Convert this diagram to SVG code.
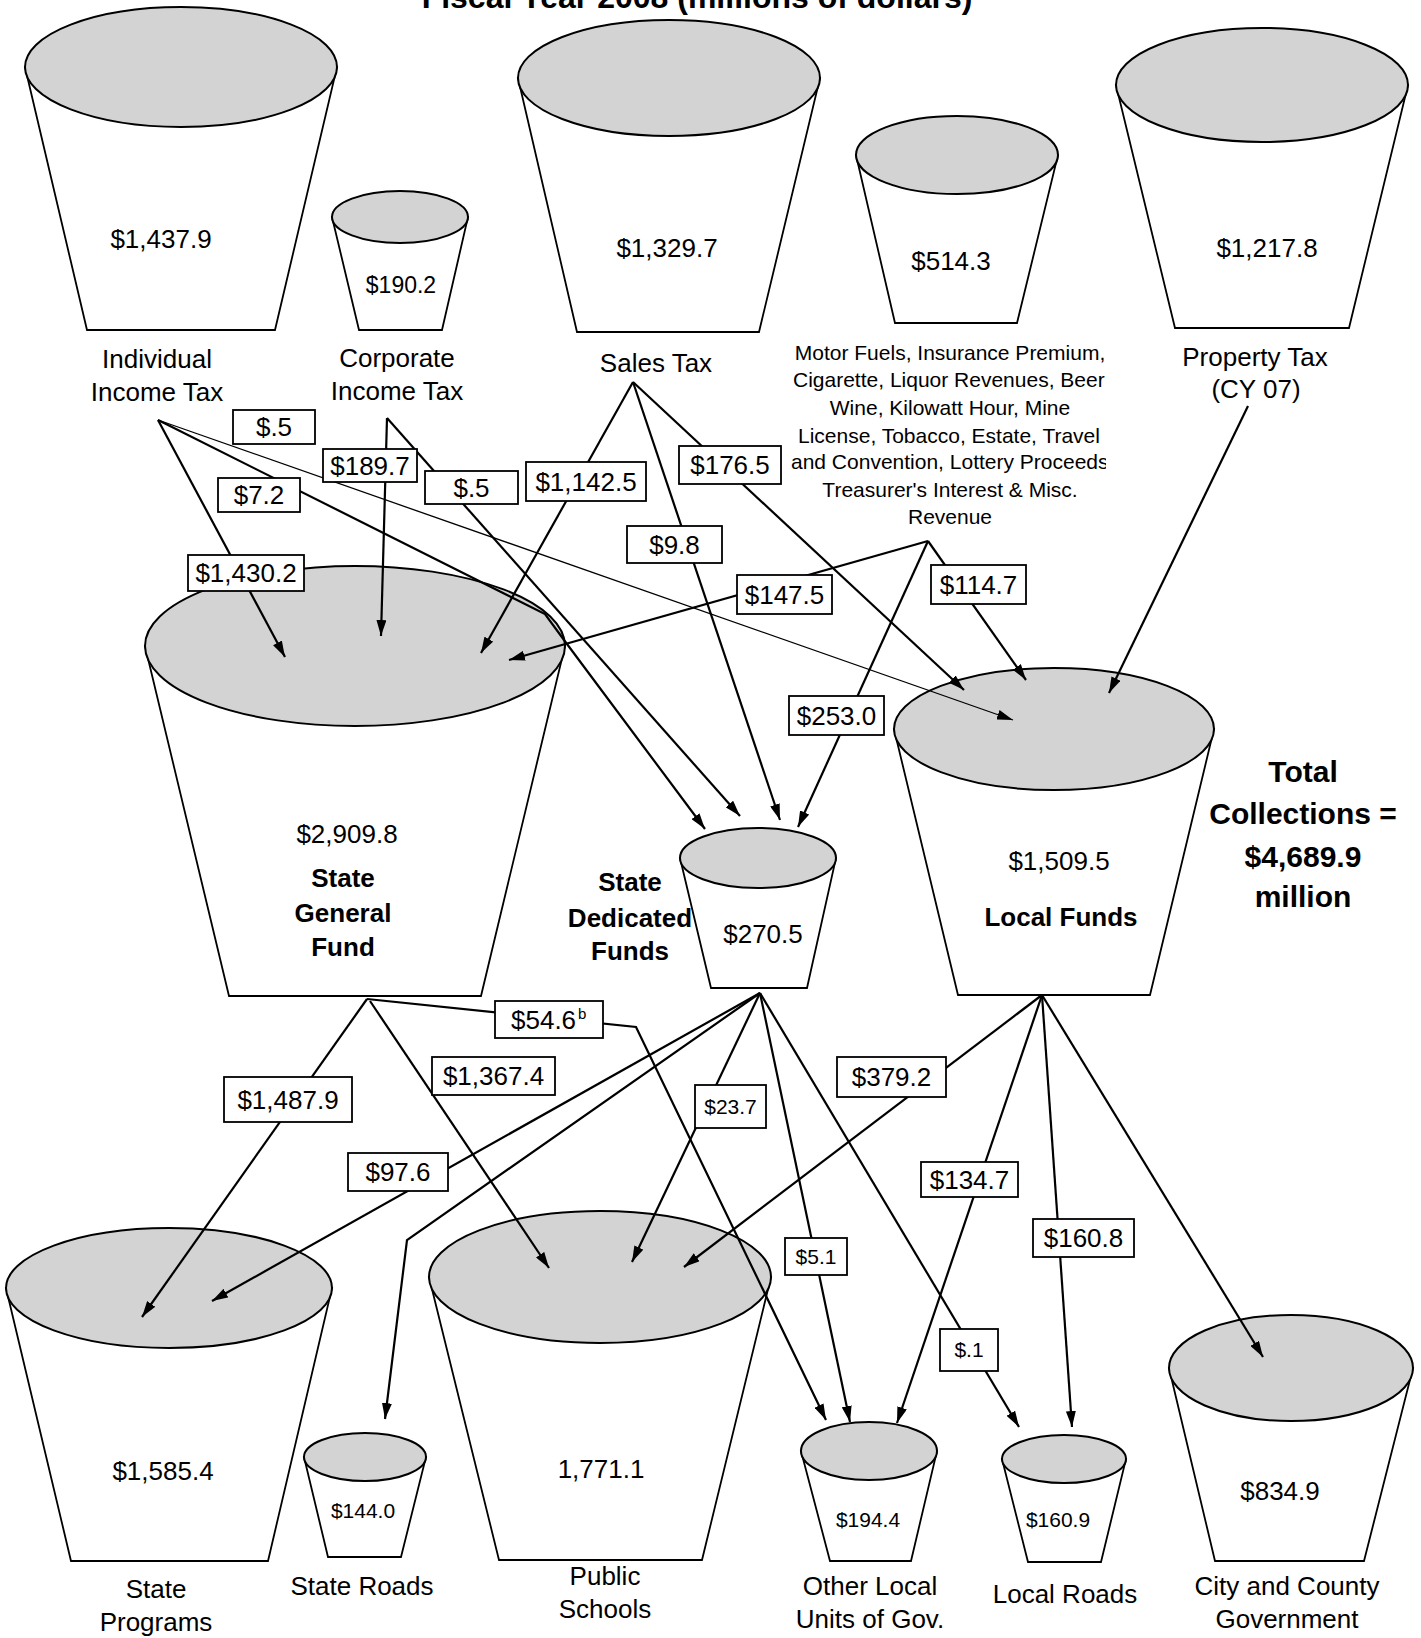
<svg xmlns="http://www.w3.org/2000/svg" width="1421" height="1638" viewBox="0 0 1421 1638">
<defs>
<style>
.body{fill:#fff;stroke:#000;stroke-width:1.8;stroke-linejoin:miter}
.top{fill:#d3d3d3;stroke:#000;stroke-width:2}
.conn{fill:none;stroke:#000;stroke-width:2.2;marker-end:url(#arrow)}
.plain{fill:none;stroke:#000;stroke-width:2.2}
.thin{stroke-width:1.3}
.box{fill:#fff;stroke:#000;stroke-width:1.8}
text{font-family:"Liberation Sans",Arial,sans-serif;font-size:26px;text-anchor:middle;fill:#000}
.s{font-size:21px}
.m{font-size:21px}
.b{font-weight:bold}
.tot{font-weight:bold;font-size:30px}
</style>
<marker id="arrow" viewBox="0 0 16 10" refX="16" refY="5" markerWidth="16" markerHeight="10" markerUnits="userSpaceOnUse" orient="auto">
<path d="M0,0 L16,5 L0,10 Z" fill="#000"/>
</marker>
<clipPath id="miscclip"><rect x="700" y="330" width="406" height="210"/></clipPath>
</defs>
<rect width="1421" height="1638" fill="#fff"/>
<text x="697" y="8" class="b" style="font-size:32px">Fiscal Year 2008 (millions of dollars)</text>

<g id="individual-income-tax">
<polygon class="body" points="25,67 87,330 275,330 337,67"/>
<ellipse class="top" cx="181" cy="67" rx="156" ry="60"/>
<text x="161" y="248">$1,437.9</text>
<text x="157" y="368">Individual</text>
<text x="157" y="401">Income Tax</text>
</g>
<g id="corporate-income-tax">
<polygon class="body" points="332,217 359,330 442,330 468,217"/>
<ellipse class="top" cx="400" cy="217" rx="68" ry="26"/>
<text x="401" y="293" style="font-size:23px">$190.2</text>
<text x="397" y="367">Corporate</text>
<text x="397" y="400">Income Tax</text>
</g>
<g id="sales-tax">
<polygon class="body" points="518,78 577,332 759,332 820,78"/>
<ellipse class="top" cx="669" cy="78" rx="151" ry="58"/>
<text x="667" y="257">$1,329.7</text>
<text x="656" y="372">Sales Tax</text>
</g>
<g id="misc-revenue">
<polygon class="body" points="856,155 895,323 1017,323 1058,155"/>
<ellipse class="top" cx="957" cy="155" rx="101" ry="39"/>
<text x="951" y="270">$514.3</text>
<g clip-path="url(#miscclip)">
<text class="m" x="950" y="360">Motor Fuels, Insurance Premium,</text>
<text class="m" x="793" y="387" style="text-anchor:start">Cigarette, Liquor Revenues, Beer</text>
<text class="m" x="950" y="415">Wine, Kilowatt Hour, Mine</text>
<text class="m" x="798" y="443" style="text-anchor:start">License, Tobacco, Estate, Travel</text>
<text class="m" x="791" y="469" style="text-anchor:start">and Convention, Lottery Proceeds</text>
<text class="m" x="950" y="497">Treasurer's Interest &amp; Misc.</text>
<text class="m" x="950" y="524">Revenue</text>
</g>
</g>
<g id="property-tax">
<polygon class="body" points="1116,85 1175,328 1349,328 1408,85"/>
<ellipse class="top" cx="1262" cy="85" rx="146" ry="57"/>
<text x="1267" y="257">$1,217.8</text>
<text x="1255" y="366">Property Tax</text>
<text x="1256" y="398">(CY 07)</text>
</g>

<g id="state-general-fund">
<polygon class="body" points="145,646 229,996 481,996 565,646"/>
<ellipse class="top" cx="355" cy="646" rx="210" ry="80"/>
<text x="347" y="843">$2,909.8</text>
<text x="343" y="887" class="b">State</text>
<text x="343" y="922" class="b">General</text>
<text x="343" y="956" class="b">Fund</text>
</g>
<g id="state-dedicated-funds">
<polygon class="body" points="680,858 711,988 807,988 836,858"/>
<ellipse class="top" cx="758" cy="858" rx="78" ry="30"/>
<text x="763" y="943">$270.5</text>
<text x="630" y="891" class="b">State</text>
<text x="630" y="927" class="b">Dedicated</text>
<text x="630" y="960" class="b">Funds</text>
</g>
<g id="local-funds">
<polygon class="body" points="894,729 958,995 1150,995 1214,729"/>
<ellipse class="top" cx="1054" cy="729" rx="160" ry="61"/>
<text x="1059" y="870">$1,509.5</text>
<text x="1061" y="926" class="b">Local Funds</text>
</g>
<g id="total-collections">
<text x="1303" y="782" class="tot">Total</text>
<text x="1303" y="824" class="tot">Collections =</text>
<text x="1303" y="867" class="tot">$4,689.9</text>
<text x="1303" y="907" class="tot">million</text>
</g>

<g id="state-programs">
<polygon class="body" points="6,1288 71,1561 268,1561 332,1288"/>
<ellipse class="top" cx="169" cy="1288" rx="163" ry="60"/>
<text x="163" y="1480">$1,585.4</text>
<text x="156" y="1598">State</text>
<text x="156" y="1631">Programs</text>
</g>
<g id="state-roads">
<polygon class="body" points="304,1457 328,1557 401,1557 426,1457"/>
<ellipse class="top" cx="365" cy="1457" rx="61" ry="24"/>
<text x="363" y="1518" class="s">$144.0</text>
<text x="362" y="1595">State Roads</text>
</g>
<g id="public-schools">
<polygon class="body" points="429,1277 499,1560 702,1560 771,1277"/>
<ellipse class="top" cx="600" cy="1277" rx="171" ry="66"/>
<text x="601" y="1478">1,771.1</text>
<text x="605" y="1585">Public</text>
<text x="605" y="1618">Schools</text>
</g>
<g id="other-local-units">
<polygon class="body" points="801,1451 830,1561 911,1561 937,1451"/>
<ellipse class="top" cx="869" cy="1451" rx="68" ry="29"/>
<text x="868" y="1527" class="s">$194.4</text>
<text x="870" y="1595">Other Local</text>
<text x="870" y="1628">Units of Gov.</text>
</g>
<g id="local-roads">
<polygon class="body" points="1002,1459 1028,1562 1101,1562 1126,1459"/>
<ellipse class="top" cx="1064" cy="1459" rx="62" ry="24"/>
<text x="1058" y="1527" class="s">$160.9</text>
<text x="1065" y="1603">Local Roads</text>
</g>
<g id="city-county-government">
<polygon class="body" points="1169,1368 1215,1561 1364,1561 1413,1368"/>
<ellipse class="top" cx="1291" cy="1368" rx="122" ry="53"/>
<text x="1280" y="1500">$834.9</text>
<text x="1287" y="1595">City and County</text>
<text x="1287" y="1628">Government</text>
</g>

<g id="connectors">
<path class="conn" d="M158,420 L285,657"/>
<path class="conn" d="M158,420 L545,614 L564,640 L705,829"/>
<path class="conn thin" d="M158,420 L1013,720"/>
<path class="conn" d="M387,418 L381,636"/>
<path class="conn" d="M387,418 L740,816"/>
<path class="conn" d="M633,382 L481,653"/>
<path class="conn" d="M633,382 L780,820"/>
<path class="conn" d="M633,382 L964,690"/>
<path class="conn" d="M928,541 L509,660"/>
<path class="conn" d="M928,541 L798,827"/>
<path class="conn" d="M928,541 L1026,680"/>
<path class="conn" d="M1248,406 L1109,693"/>
<path class="conn" d="M367,999 L142,1317"/>
<path class="conn" d="M370,1001 L549,1268"/>
<path class="conn" d="M367,999 L636,1027 L826,1420"/>
<path class="conn" d="M760,993 L212,1301"/>
<path class="conn" d="M760,993 L407,1240 L385,1419"/>
<path class="conn" d="M760,993 L632,1262"/>
<path class="conn" d="M760,993 L850,1422"/>
<path class="conn" d="M760,993 L1019,1427"/>
<path class="conn" d="M1042,995 L684,1267"/>
<path class="conn" d="M1042,995 L897,1423"/>
<path class="conn" d="M1042,995 L1072,1427"/>
<path class="conn" d="M1042,995 L1263,1357"/>
</g>

<g id="connector-labels">
<rect class="box" x="233" y="410" width="82" height="34"/><text x="274" y="436">$.5</text>
<rect class="box" x="323" y="449" width="94" height="33"/><text x="370" y="475">$189.7</text>
<rect class="box" x="218" y="478" width="82" height="34"/><text x="259" y="504">$7.2</text>
<rect class="box" x="425" y="471" width="93" height="33"/><text x="471.5" y="497">$.5</text>
<rect class="box" x="526" y="462" width="120" height="39"/><text x="586" y="491">$1,142.5</text>
<rect class="box" x="679" y="446" width="102" height="38"/><text x="730" y="474">$176.5</text>
<rect class="box" x="627" y="526" width="95" height="37"/><text x="674.5" y="554">$9.8</text>
<rect class="box" x="188" y="555" width="116" height="36"/><text x="246" y="582">$1,430.2</text>
<rect class="box" x="737" y="575" width="95" height="39"/><text x="784.5" y="604">$147.5</text>
<rect class="box" x="931" y="565" width="95" height="39"/><text x="978.5" y="594">$114.7</text>
<rect class="box" x="789" y="696" width="95" height="39"/><text x="836.5" y="725">$253.0</text>
<rect class="box" x="495" y="1001" width="108" height="37"/><text x="511" y="1029" style="text-anchor:start">$54.6</text><text x="578" y="1019" style="text-anchor:start;font-size:15px">b</text>
<rect class="box" x="432" y="1057" width="123" height="38"/><text x="493.5" y="1085">$1,367.4</text>
<rect class="box" x="224" y="1077" width="128" height="45"/><text x="288" y="1109">$1,487.9</text>
<rect class="box" x="695" y="1085" width="71" height="43"/><text x="730.5" y="1114" class="s">$23.7</text>
<rect class="box" x="837" y="1057" width="109" height="40"/><text x="891.5" y="1086">$379.2</text>
<rect class="box" x="348" y="1153" width="100" height="38"/><text x="398" y="1181">$97.6</text>
<rect class="box" x="921" y="1162" width="97" height="35"/><text x="969.5" y="1189">$134.7</text>
<rect class="box" x="1033" y="1219" width="101" height="38"/><text x="1083.5" y="1247">$160.8</text>
<rect class="box" x="785" y="1238" width="62" height="37"/><text x="816" y="1264" class="s">$5.1</text>
<rect class="box" x="940" y="1329" width="58" height="42"/><text x="969" y="1357" class="s">$.1</text>
</g>
</svg>
